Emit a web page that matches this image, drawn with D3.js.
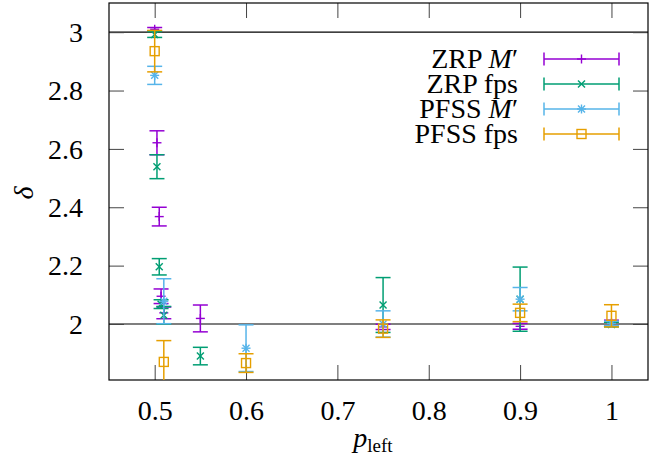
<!DOCTYPE html>
<html>
<head>
<meta charset="utf-8">
<script src="https://cdn.jsdelivr.net/npm/d3@7"></script>
<style>
  html, body { margin: 0; padding: 0; background: #fff; }
  svg { display: block; }
  text { font-family: "Liberation Serif", "Times New Roman", serif; fill: #000; }
</style>
</head>
<body>
<svg id="chart" width="651" height="462"></svg>
<script>
// ---------------- data ----------------
const seriesLabels = ["ZRP M′", "ZRP fps", "PFSS M′", "PFSS fps"];
const seriesColors = ["#9400D3", "#009E73", "#56B4E9", "#E69F00"];
const seriesMarkers = ["plus", "cross", "star", "square"];

const zrpMx   = [0.5, 0.5025, 0.505, 0.507, 0.51, 0.55, 0.75, 0.9, 1.0];
const zrpMy   = [3.010, 2.621, 2.368, 2.095, 2.038, 2.019, 1.990, 1.992, 2.003];
const zrpMerr = [0.006, 0.041, 0.032, 0.025, 0.020, 0.046, 0.009, 0.010, 0.010];

const zrpFx   = [0.5, 0.5025, 0.505, 0.507, 0.51, 0.55, 0.75, 0.9, 1.0];
const zrpFy   = [2.992, 2.539, 2.196, 2.068, 2.030, 1.890, 2.065, 2.085, 1.998];
const zrpFerr = [0.010, 0.041, 0.028, 0.015, 0.030, 0.030, 0.094, 0.110, 0.008];

const pfssMx   = [0.5, 0.51, 0.6, 0.75, 0.9, 1.0];
const pfssMy   = [2.852, 2.078, 1.917, 2.000, 2.085, 2.002];
const pfssMerr = [0.031, 0.077, 0.080, 0.045, 0.040, 0.008];

const pfssFx   = [0.5, 0.51, 0.6, 0.75, 0.9, 1.0];
const pfssFy   = [2.935, 1.870, 1.866, 1.984, 2.038, 2.028];
const pfssFerr = [0.071, 0.073, 0.032, 0.030, 0.030, 0.038];

const xTicks = [0.5, 0.6, 0.7, 0.8, 0.9, 1];
const yTicks = [2, 2.2, 2.4, 2.6, 2.8, 3];
const refLines = [2, 3];
const xDomain = [0.45, 1.04];
const yDomain = [1.808, 3.1];

// ---------------- layout ----------------
const svg = d3.select("#chart");
const L = 109, R = 648, T = 3, B = 380;
const x = d3.scaleLinear().domain(xDomain).range([L, R]);
const y = d3.scaleLinear().domain(yDomain).range([B, T]);
const FS = 28;

const seriesData = [
  [zrpMx, zrpMy, zrpMerr],
  [zrpFx, zrpFy, zrpFerr],
  [pfssMx, pfssMy, pfssMerr],
  [pfssFx, pfssFy, pfssFerr]
].map(([xs, ys, es], i) => ({
  label: seriesLabels[i], color: seriesColors[i], marker: seriesMarkers[i],
  points: xs.map((v, j) => ({ x: v, y: ys[j], e: es[j] }))
}));

svg.append("defs").append("clipPath").attr("id", "plotclip")
  .append("rect").attr("x", L).attr("y", T).attr("width", R - L).attr("height", B - T);

// reference lines
svg.append("g").selectAll("line").data(refLines).join("line")
  .attr("x1", L).attr("x2", R).attr("y1", d => y(d)).attr("y2", d => y(d))
  .attr("stroke", "#000").attr("stroke-width", 1.2);

// axes with inward ticks (mirrored)
const tickLen = 15;
const axB = svg.append("g").attr("transform", `translate(0,${B})`)
  .call(d3.axisBottom(x).tickValues(xTicks).tickSize(-tickLen).tickFormat(d3.format("")));
const axT = svg.append("g").attr("transform", `translate(0,${T})`)
  .call(d3.axisTop(x).tickValues(xTicks).tickSize(-tickLen).tickFormat(""));
const axL = svg.append("g").attr("transform", `translate(${L},0)`)
  .call(d3.axisLeft(y).tickValues(yTicks).tickSize(-tickLen).tickFormat(d3.format("")));
const axR = svg.append("g").attr("transform", `translate(${R},0)`)
  .call(d3.axisRight(y).tickValues(yTicks).tickSize(-tickLen).tickFormat(""));
[axB, axT, axL, axR].forEach(a => {
  a.select(".domain").remove();
  a.selectAll(".tick line").attr("stroke", "#444").attr("stroke-width", 1);
});
axB.selectAll(".tick text").attr("y", 0).attr("dy", 0)
  .attr("transform", "translate(0,40)")
  .style("font-family", "Liberation Serif").style("font-size", FS + "px").attr("fill", "#000");
axL.selectAll(".tick text").attr("x", -26).attr("dy", "0.33em")
  .style("font-family", "Liberation Serif").style("font-size", FS + "px").attr("fill", "#000");

// frame
svg.append("rect").attr("x", L).attr("y", T).attr("width", R - L).attr("height", B - T)
  .attr("fill", "none").attr("stroke", "#000").attr("stroke-width", 1.2);

// markers
function drawMarker(g, type, cx, cy, color) {
  const sw = 1.4;
  const line = (x1, y1, x2, y2) => g.append("line")
    .attr("x1", x1).attr("y1", y1).attr("x2", x2).attr("y2", y2)
    .attr("stroke", color).attr("stroke-width", sw);
  if (type === "plus") { line(cx - 4.5, cy, cx + 4.5, cy); line(cx, cy - 4.5, cx, cy + 4.5); }
  else if (type === "cross") { line(cx - 3.5, cy - 3.5, cx + 3.5, cy + 3.5); line(cx - 3.5, cy + 3.5, cx + 3.5, cy - 3.5); }
  else if (type === "star") {
    line(cx - 4.5, cy, cx + 4.5, cy); line(cx, cy - 4.5, cx, cy + 4.5);
    line(cx - 3.5, cy - 3.5, cx + 3.5, cy + 3.5); line(cx - 3.5, cy + 3.5, cx + 3.5, cy - 3.5);
  } else if (type === "square") {
    g.append("rect").attr("x", cx - 4.5).attr("y", cy - 4.5).attr("width", 9).attr("height", 9)
      .attr("fill", "none").attr("stroke", color).attr("stroke-width", sw);
  }
}

const capW = 7.5;
const plot = svg.append("g").attr("clip-path", "url(#plotclip)");
seriesData.forEach(s => {
  const g = plot.append("g");
  s.points.forEach(p => {
    const px = x(p.x), y1 = y(p.y - p.e), y2 = y(p.y + p.e);
    g.append("line").attr("x1", px).attr("x2", px).attr("y1", y1).attr("y2", y2)
      .attr("stroke", s.color).attr("stroke-width", 1.5);
    [y1, y2].forEach(yy => g.append("line").attr("x1", px - capW).attr("x2", px + capW)
      .attr("y1", yy).attr("y2", yy).attr("stroke", s.color).attr("stroke-width", 1.5));
    drawMarker(g, s.marker, px, y(p.y), s.color);
  });
});

// legend
const legRow0 = 59, legDy = 25, legTextX = 518, legX1 = 544, legX2 = 619;
seriesData.forEach((s, i) => {
  const ry = legRow0 + i * legDy;
  const t = svg.append("text").attr("x", legTextX).attr("y", ry + 9)
    .attr("text-anchor", "end").style("font-size", FS + "px");
  if (s.label.endsWith("M′")) {
    t.append("tspan").text(s.label.slice(0, -2));
    t.append("tspan").style("font-style", "italic").text("M");
    t.append("tspan").text("′");
  } else {
    t.text(s.label);
  }
  const g = svg.append("g");
  g.append("line").attr("x1", legX1).attr("x2", legX2).attr("y1", ry).attr("y2", ry)
    .attr("stroke", s.color).attr("stroke-width", 1.5);
  [legX1, legX2].forEach(xx => g.append("line").attr("x1", xx).attr("x2", xx)
    .attr("y1", ry - 6.5).attr("y2", ry + 6.5).attr("stroke", s.color).attr("stroke-width", 1.5));
  drawMarker(g, s.marker, (legX1 + legX2) / 2, ry, s.color);
});

// axis titles
svg.append("text").attr("transform", "translate(33,193) rotate(-90)")
  .attr("text-anchor", "middle").style("font-size", FS + "px").style("font-style", "italic").text("δ");
const xl = svg.append("text").attr("x", 373).attr("y", 447).attr("text-anchor", "middle")
  .style("font-size", FS + "px");
xl.append("tspan").style("font-style", "italic").text("p");
xl.append("tspan").attr("dy", 5).style("font-size", "19px").text("left");
</script>
</body>
</html>
